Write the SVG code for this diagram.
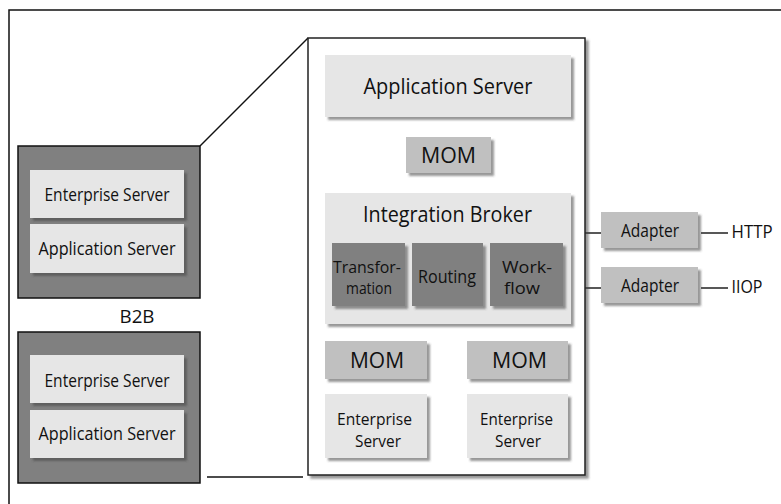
<svg xmlns="http://www.w3.org/2000/svg" width="781" height="504" viewBox="0 0 781 504">
<style>
text{font-family:"Open Sans","Noto Sans","Liberation Sans",sans-serif;fill:#111;text-anchor:middle}
.t16{font-size:17.5px}
.t2l{font-size:16.5px}
.tsm{font-size:15.5px}
.t19{font-size:21px}
.light{fill:#e6e6e6}
.mid{fill:#c0c0c0}
.dark{fill:#808080}
.ln{stroke:#111;stroke-width:1.4;fill:none}
</style>
<defs>
<filter id="sh" x="-10%" y="-10%" width="130%" height="130%">
<feDropShadow dx="3" dy="3" stdDeviation="1" flood-color="#444" flood-opacity="0.55"/>
</filter>
</defs>
<rect x="9" y="10" width="800" height="520" fill="#fff" stroke="#111" stroke-width="1.5"/>

<g id="connectors">
<line class="ln" x1="200" y1="146" x2="308" y2="38"/>
<line class="ln" x1="207" y1="477" x2="303" y2="477"/>
<line class="ln" x1="585" y1="233" x2="601" y2="233"/>
<line class="ln" x1="585" y1="288" x2="601" y2="288"/>
<line class="ln" x1="701" y1="233" x2="728" y2="233"/>
<line class="ln" x1="701" y1="288" x2="728" y2="288"/>
</g>

<g id="b2b-top">
<rect x="18" y="146" width="182" height="152" class="dark" stroke="#111" stroke-width="1.5"/>
<rect x="30" y="170" width="154" height="48" class="light" filter="url(#sh)"/>
<text class="t16" x="107" y="201" textLength="125" lengthAdjust="spacingAndGlyphs">Enterprise Server</text>
<rect x="30" y="224" width="154" height="49" class="light" filter="url(#sh)"/>
<text class="t16" x="107" y="255" textLength="137" lengthAdjust="spacingAndGlyphs">Application Server</text>
</g>

<g id="b2b-label">
<text class="t16" x="137" y="323" textLength="35" lengthAdjust="spacingAndGlyphs">B2B</text>
</g>

<g id="b2b-bottom">
<rect x="18" y="332" width="182" height="151" class="dark" stroke="#111" stroke-width="1.5"/>
<rect x="30" y="355" width="154" height="48" class="light" filter="url(#sh)"/>
<text class="t16" x="107" y="387" textLength="125" lengthAdjust="spacingAndGlyphs">Enterprise Server</text>
<rect x="30" y="410" width="154" height="48" class="light" filter="url(#sh)"/>
<text class="t16" x="107" y="440" textLength="137" lengthAdjust="spacingAndGlyphs">Application Server</text>
</g>

<g id="main-box">
<rect x="308" y="38" width="277" height="437" fill="#fff" stroke="#222" stroke-width="1.5" filter="url(#sh)"/>
</g>

<g id="app-server">
<rect x="325" y="55" width="246" height="62" class="light" filter="url(#sh)"/>
<text class="t19" x="448" y="94" textLength="169" lengthAdjust="spacingAndGlyphs">Application Server</text>
</g>

<g id="mom-top">
<rect x="406" y="137" width="85" height="36" class="mid" filter="url(#sh)"/>
<text class="t19" x="448.5" y="163" textLength="55" lengthAdjust="spacingAndGlyphs">MOM</text>
</g>

<g id="integration-broker">
<rect x="325" y="193" width="246" height="131" class="light" filter="url(#sh)"/>
<text class="t19" x="447.5" y="222" textLength="169" lengthAdjust="spacingAndGlyphs">Integration Broker</text>
</g>

<g id="transformation">
<rect x="332" y="243" width="73" height="63" class="dark" filter="url(#sh)"/>
<text class="tsm" x="367" y="273" textLength="68" lengthAdjust="spacingAndGlyphs">Transfor-</text>
<text class="tsm" x="369" y="294" textLength="46" lengthAdjust="spacingAndGlyphs">mation</text>
</g>

<g id="routing">
<rect x="412" y="243" width="71" height="63" class="dark" filter="url(#sh)"/>
<text class="t16" x="447" y="283" textLength="58" lengthAdjust="spacingAndGlyphs">Routing</text>
</g>

<g id="workflow">
<rect x="490" y="243" width="73" height="63" class="dark" filter="url(#sh)"/>
<text class="tsm" x="527" y="273" textLength="50" lengthAdjust="spacingAndGlyphs">Work-</text>
<text class="tsm" x="522" y="294" textLength="36" lengthAdjust="spacingAndGlyphs">flow</text>
</g>

<g id="mom-left">
<rect x="325" y="341" width="102" height="38" class="mid" filter="url(#sh)"/>
<text class="t19" x="377" y="368" textLength="54" lengthAdjust="spacingAndGlyphs">MOM</text>
</g>

<g id="mom-right">
<rect x="467" y="341" width="101" height="38" class="mid" filter="url(#sh)"/>
<text class="t19" x="519.5" y="368" textLength="55" lengthAdjust="spacingAndGlyphs">MOM</text>
</g>

<g id="ent-left">
<rect x="325" y="394" width="102" height="64" class="light" filter="url(#sh)"/>
<text class="t2l" x="374.5" y="425" textLength="75" lengthAdjust="spacingAndGlyphs">Enterprise</text>
<text class="t2l" x="378" y="447" textLength="46" lengthAdjust="spacingAndGlyphs">Server</text>
</g>

<g id="ent-right">
<rect x="467" y="394" width="101" height="64" class="light" filter="url(#sh)"/>
<text class="t2l" x="516.5" y="425" textLength="73" lengthAdjust="spacingAndGlyphs">Enterprise</text>
<text class="t2l" x="518" y="447" textLength="46" lengthAdjust="spacingAndGlyphs">Server</text>
</g>

<g id="adapter-http">
<rect x="601" y="212" width="97" height="36" class="mid" filter="url(#sh)"/>
<text class="t16" x="650" y="237" textLength="58" lengthAdjust="spacingAndGlyphs">Adapter</text>
<text class="t16" x="752" y="238" textLength="41" lengthAdjust="spacingAndGlyphs">HTTP</text>
</g>

<g id="adapter-iiop">
<rect x="601" y="267" width="97" height="36" class="mid" filter="url(#sh)"/>
<text class="t16" x="650" y="292" textLength="58" lengthAdjust="spacingAndGlyphs">Adapter</text>
<text class="t16" x="747" y="293" textLength="31" lengthAdjust="spacingAndGlyphs">IIOP</text>
</g>
</svg>
